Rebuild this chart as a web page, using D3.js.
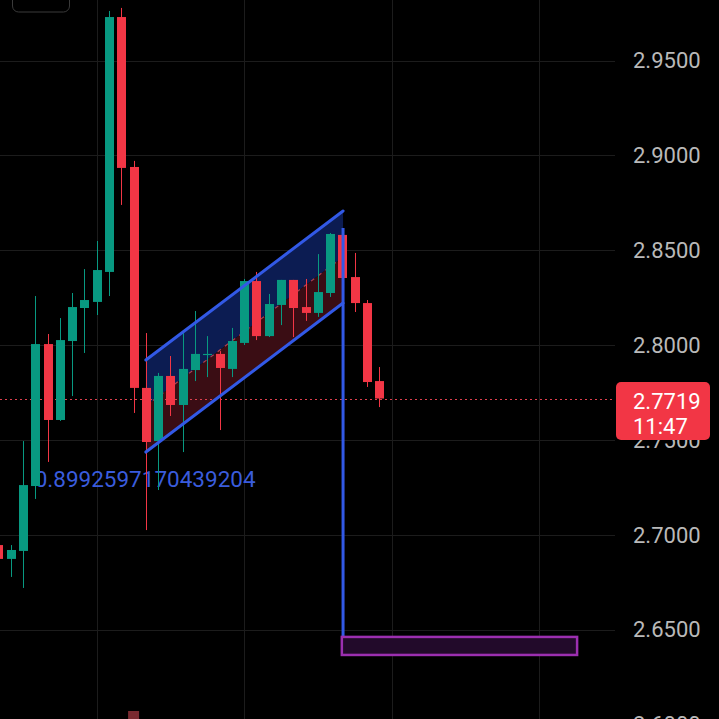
<!DOCTYPE html>
<html lang="en">
<head>
<meta charset="utf-8">
<title>price chart</title>
<script src="https://cdn.jsdelivr.net/npm/d3@7"></script>
<style>
  html, body { margin: 0; padding: 0; background: #000; }
  svg { display: block; }
  text { font-family: Roboto, "Noto Sans", sans-serif; }
</style>
</head>
<body>
<script>
// candles, index 0 = first candle whose body starts at 2.7258
var candleIndex = [-3,-2,-1,0,1,2,3,4,5,6,7,8,9,10,11,12,13,14,15,16,17,18,19,20,21,22,23,24,25,26,27,28];
var opens  = [2.6947,2.6874,2.6916,2.7258,2.8006,2.7606,2.8022,2.8196,2.8228,2.8386,2.9729,2.8939,2.7775,2.7495,2.7838,2.7685,2.7869,2.7948,2.7954,2.7875,2.8012,2.8338,2.8048,2.8212,2.8344,2.8201,2.8170,2.8275,2.8581,2.8359,2.8222,2.7811];
var highs  = [2.6958,2.6947,2.7495,2.8259,2.8059,2.8143,2.8275,2.8401,2.8549,2.9761,2.9777,2.8971,2.8064,2.7854,2.7943,2.8064,2.8180,2.8048,2.7969,2.8091,2.8349,2.8386,2.8270,2.8344,2.8344,2.8349,2.8480,2.8591,2.8607,2.8486,2.8238,2.7885];
var lows   = [2.6858,2.6779,2.6721,2.7190,2.7385,2.7601,2.7732,2.7959,2.8159,2.8259,2.8739,2.7643,2.7026,2.7237,2.7627,2.7437,2.7811,2.7832,2.7553,2.7832,2.8001,2.8027,2.8043,2.8106,2.8043,2.8128,2.8149,2.8254,2.8349,2.8175,2.7780,2.7674];
var closes = [2.6874,2.6921,2.7263,2.8006,2.7606,2.8027,2.8201,2.8238,2.8396,2.9729,2.8934,2.7775,2.7490,2.7838,2.7685,2.7875,2.7954,2.7954,2.7880,2.8022,2.8338,2.8048,2.8217,2.8344,2.8196,2.8170,2.8280,2.8586,2.8354,2.8222,2.7806,2.7719];

var priceTicks = [2.60, 2.65, 2.70, 2.75, 2.80, 2.85, 2.90, 2.95];
var timeGridIndex = [5, 17, 29, 41];
var lastPrice = 2.7719;
var countdown = "11:47";

// drawings
var channelStart = 9, channelEnd = 25.05;
var channelTop = [2.7922, 2.8707];
var channelMid = [2.7680, 2.8465];
var channelBottom = [2.7437, 2.8222];
var targetLineTop = 2.8617;
var targetBox = { i0: 24.95, i1: 44.1, p0: 2.6463, p1: 2.6368 };
var noteText = "0.8992597170439204";
var notePos = { i: -0.05, p: 2.7253 };
var volumeIndex = [8];
var volumeValues = [1];

var w = 719, h = 719;
var plotRight = 615;
var green = "#089981", red = "#f23645", blue = "#3259e6";

var x = d3.scaleLinear().domain([0, 28]).range([35.3, 379.3]);
var y = d3.scaleLinear().domain([2.60, 2.95]).range([724.8, 60.5]);
var bodyW = 9;

var candles = candleIndex.map(function(d, k) {
    return { i: d, o: opens[k], h: highs[k], l: lows[k], c: closes[k] };
});

var svg = d3.select("body").append("svg")
    .attr("width", w)
    .attr("height", h);

svg.append("rect").attr("width", w).attr("height", h).attr("fill", "#000");

// grid
svg.append("g").selectAll("line")
    .data(priceTicks)
    .enter().append("line")
    .attr("x1", 0).attr("x2", plotRight)
    .attr("y1", function(d) { return Math.round(y(d)) + 0.5; })
    .attr("y2", function(d) { return Math.round(y(d)) + 0.5; })
    .attr("stroke", "#1c1c1c");

svg.append("g").selectAll("line")
    .data(timeGridIndex)
    .enter().append("line")
    .attr("x1", function(d) { return Math.round(x(d)) + 0.5; })
    .attr("x2", function(d) { return Math.round(x(d)) + 0.5; })
    .attr("y1", 0).attr("y2", h)
    .attr("stroke", "#1c1c1c");

// top-left button outline
svg.append("rect")
    .attr("x", 12.5).attr("y", -20).attr("width", 57).attr("height", 32)
    .attr("rx", 6).attr("fill", "none").attr("stroke", "#3a3a3a");

// volume
svg.append("g").selectAll("rect")
    .data(volumeIndex)
    .enter().append("rect")
    .attr("x", function(d) { return x(d) - 5.5; })
    .attr("y", 711)
    .attr("width", 11)
    .attr("height", function(d, k) { return 8 * volumeValues[k]; })
    .attr("fill", "#7a2a30");

// note text (behind candles)
svg.append("text")
    .attr("x", x(notePos.i))
    .attr("y", y(notePos.p))
    .attr("fill", "#3a5cdc")
    .attr("font-size", 22.5)
    .text(noteText);

// channel fills
var upper = [
    [x(channelStart), y(channelTop[0])],
    [x(channelEnd), y(channelTop[1])],
    [x(channelEnd), y(channelMid[1])],
    [x(channelStart), y(channelMid[0])]
];
var lower = [
    [x(channelStart), y(channelMid[0])],
    [x(channelEnd), y(channelMid[1])],
    [x(channelEnd), y(channelBottom[1])],
    [x(channelStart), y(channelBottom[0])]
];
svg.append("path")
    .attr("d", d3.line()(upper) + "Z")
    .attr("fill", "#0c1c52");
svg.append("path")
    .attr("d", d3.line()(lower) + "Z")
    .attr("fill", "#3a0d14");
svg.append("line")
    .attr("x1", x(channelStart)).attr("y1", y(channelMid[0]))
    .attr("x2", x(channelEnd)).attr("y2", y(channelMid[1]))
    .attr("stroke", "#b04050").attr("stroke-width", 1.2)
    .attr("stroke-dasharray", "4,5");

// last price line
svg.append("line")
    .attr("x1", 0).attr("x2", plotRight)
    .attr("y1", Math.round(y(lastPrice)) + 0.5)
    .attr("y2", Math.round(y(lastPrice)) + 0.5)
    .attr("stroke", "#e0414f").attr("stroke-width", 1)
    .attr("stroke-dasharray", "2,3");

// candles
var cg = svg.append("g").selectAll("g")
    .data(candles)
    .enter().append("g");

cg.append("line")
    .attr("x1", function(d) { return Math.round(x(d.i)) + 0.5; })
    .attr("x2", function(d) { return Math.round(x(d.i)) + 0.5; })
    .attr("y1", function(d) { return y(d.h); })
    .attr("y2", function(d) { return y(d.l); })
    .attr("stroke", function(d) { return d.c >= d.o ? green : red; })
    .attr("stroke-width", 1);

cg.append("rect")
    .attr("x", function(d) { return Math.round(x(d.i)) + 0.5 - bodyW / 2; })
    .attr("y", function(d) { return y(Math.max(d.o, d.c)); })
    .attr("width", bodyW)
    .attr("height", function(d) { return Math.max(1, Math.abs(y(d.o) - y(d.c))); })
    .attr("fill", function(d) { return d.c >= d.o ? green : red; });

// channel borders
svg.append("line")
    .attr("x1", x(channelStart)).attr("y1", y(channelTop[0]))
    .attr("x2", x(channelEnd)).attr("y2", y(channelTop[1]))
    .attr("stroke", blue).attr("stroke-width", 3).attr("stroke-linecap", "round");
svg.append("line")
    .attr("x1", x(channelStart)).attr("y1", y(channelBottom[0]))
    .attr("x2", x(channelEnd)).attr("y2", y(channelBottom[1]))
    .attr("stroke", blue).attr("stroke-width", 3).attr("stroke-linecap", "round");

// target line + box
svg.append("line")
    .attr("x1", x(channelEnd)).attr("x2", x(channelEnd))
    .attr("y1", y(targetLineTop)).attr("y2", y(targetBox.p0))
    .attr("stroke", blue).attr("stroke-width", 3);

svg.append("rect")
    .attr("x", x(targetBox.i0))
    .attr("y", y(targetBox.p0))
    .attr("width", x(targetBox.i1) - x(targetBox.i0))
    .attr("height", y(targetBox.p1) - y(targetBox.p0))
    .attr("fill", "#220a2a")
    .attr("stroke", "#9c2fb0")
    .attr("stroke-width", 2.5);

// price axis
var axis = d3.axisRight(y)
    .tickValues(priceTicks)
    .tickSize(0)
    .tickPadding(0)
    .tickFormat(d3.format(".4f"));

var ag = svg.append("g")
    .attr("transform", "translate(633,0)")
    .call(axis);
ag.select(".domain").remove();
ag.selectAll("text")
    .attr("fill", "#b9b9b9")
    .attr("font-size", 22)
    .attr("font-family", "Roboto, sans-serif");

// last price label
svg.append("rect")
    .attr("x", 616).attr("y", 382)
    .attr("width", 94).attr("height", 58)
    .attr("rx", 5)
    .attr("fill", red);
svg.append("text")
    .attr("x", 633).attr("y", 409)
    .attr("fill", "#fff").attr("font-size", 22)
    .text(d3.format(".4f")(lastPrice));
svg.append("text")
    .attr("x", 633).attr("y", 434)
    .attr("fill", "#fff").attr("font-size", 22)
    .text(countdown);
</script>
</body>
</html>
